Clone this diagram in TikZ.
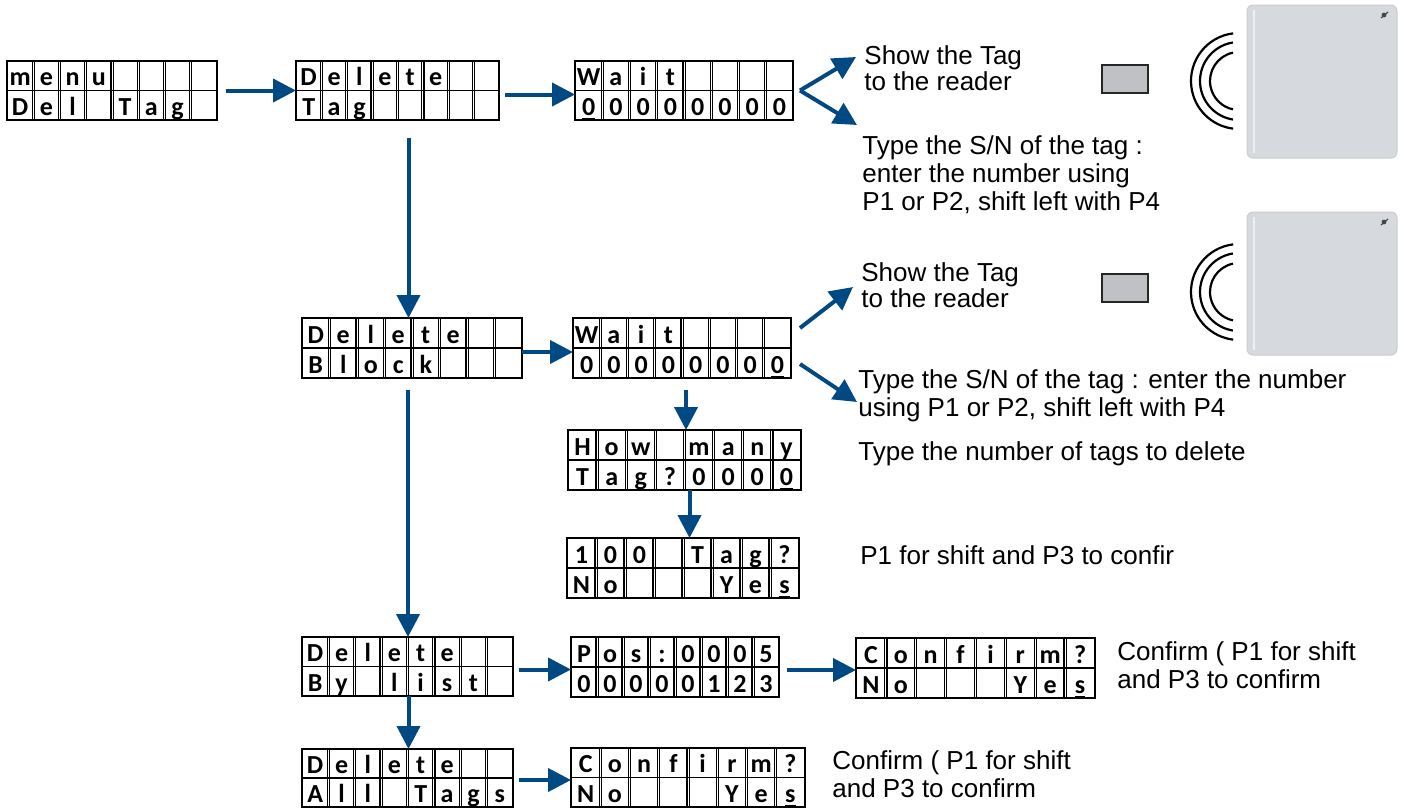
\documentclass[tikz,border=0pt]{standalone}
\usepackage{fontspec}
\setmainfont{Liberation Sans}
\newfontfamily\lcdfont{Carlito}
\usetikzlibrary{arrows.meta,calc}
\definecolor{arrblue}{RGB}{0,73,131}
\definecolor{taggray}{RGB}{192,193,196}
\definecolor{readergray}{RGB}{214,217,221}
\tikzset{
  lcdbox/.style={draw=black, line width=1pt, inner sep=0pt, outer sep=0pt},
  lcdline/.style={draw=black, line width=0.6pt},
  lcdtxt/.style={font=\lcdfont\bfseries\fontsize{13}{13}\selectfont, inner sep=0pt, anchor=base},
  arr/.style={draw=arrblue, line width=2pt, -{Triangle[width=11.5pt,length=11.5pt]}},
  lbl/.style={font=\fontsize{13}{14}\selectfont, align=left, anchor=west, inner sep=0pt},
  lbltight/.style={lbl, font=\fontsize{13}{13}\selectfont},
  tagrect/.style={draw=gray!30!black, fill=taggray, line width=0.6pt},
  reader/.style={draw=gray!40, fill=readergray, line width=0.5pt, rounded corners=3pt},
  wave/.style={draw=black, line width=1.1pt},
}
% #1 name, #2 x0, #3 y0, #4 x1, #5 y1, #6 row1, #7 row2
\newcommand\lcd[7]{%
  \pgfmathsetmacro\lcdw{#4-#2}%
  \pgfmathsetmacro\lcdh{#5-#3}%
  \pgfmathsetmacro\lcdc{\lcdw/8}%
  \pgfmathsetmacro\lcdm{(#3+#5)/2}%
  \node[lcdbox, minimum width=\lcdw*0.5pt, minimum height=\lcdh*0.5pt, anchor=north west] (#1) at (#2,#3) {};
  \draw[lcdline] (#2,\lcdm) -- (#4,\lcdm);
  \foreach \i in {1,...,7}{\draw[lcdline] ({#2+\i*\lcdc-1.1},#3) -- ++(0,\lcdh) ({#2+\i*\lcdc+1.1},#3) -- ++(0,\lcdh);}
  \foreach \ch [count=\i] in {#6}{\node[lcdtxt] at ({#2+(\i-0.5)*\lcdc},\lcdm-5) {\ch};}
  \foreach \ch [count=\i] in {#7}{\node[lcdtxt] at ({#2+(\i-0.5)*\lcdc},#5-5) {\ch};}
}
\newcommand\waves[1]{%
  \draw[wave] ([shift={(97:24pt)}]#1) arc[start angle=97, end angle=263, radius=24pt];
  \draw[wave] ([shift={(99:19.5pt)}]#1) arc[start angle=99, end angle=261, radius=19.5pt];
  \draw[wave] ([shift={(102:14.5pt)}]#1) arc[start angle=102, end angle=258, radius=14.5pt];
}
\newcommand\readerpad[2]{%
  \draw[reader] (1247,#1) rectangle (1397,#2);
  \draw[white!60!readergray, line width=0.8pt] (1254,#1+5) -- (1254,#2-5);
  \draw[gray!55!black, line width=0.6pt] (1381,#1+13) -- (1388,#1+7);
  \fill[gray!55!black] (1384,#1+10) circle (1.2pt);
}
\begin{document}
\begin{tikzpicture}[x=0.5pt,y=-0.5pt]
\useasboundingbox (0,0) rectangle (1404,810);
\fill[white] (0,0) rectangle (1404,810);

\lcd{d1}{7}{61}{217}{120}{m,e,n,u,{},{},{},{}}{D,e,l,{},T,a,g,{}}
\lcd{d2}{296}{61}{499}{120}{D,e,l,e,t,e,{},{}}{T,a,g,{},{},{},{},{}}
\lcd{d3}{575}{61}{793}{120}{W,a,i,t,{},{},{},{}}{\underline{0},0,0,0,0,0,0,0}
\lcd{d4}{302}{318}{522}{378}{D,e,l,e,t,e,{},{}}{B,l,o,c,k,{},{},{}}
\lcd{d5}{573}{318}{791}{378}{W,a,i,t,{},{},{},{}}{0,0,0,0,0,0,0,\underline{0}}
\lcd{d6}{568}{430}{801}{490}{H,o,w,{},m,a,n,y}{T,a,g,?,0,0,0,\underline{0}}
\lcd{d7}{567}{538}{799}{598}{1,0,0,{},T,a,g,?}{N,o,{},{},{},Y,e,\underline{s}}
\lcd{d8}{302}{637}{513}{696}{D,e,l,e,t,e,{},{}}{B,y,{},l,i,s,t,{}}
\lcd{d9}{571}{637}{779}{697}{P,o,s,:,0,0,0,5}{0,0,0,0,0,1,2,3}
\lcd{d10}{856}{638}{1095}{698}{C,o,n,f,i,r,m,?}{N,o,{},{},{},Y,e,\underline{s}}
\lcd{d11}{302}{749}{513}{807}{D,e,l,e,t,e,{},{}}{A,l,l,{},T,a,g,s}
\lcd{d12}{571}{748}{805}{807}{C,o,n,f,i,r,m,?}{N,o,{},{},{},Y,e,\underline{s}}

% labels
\node[lbltight] (l1) at (864,68) {Show the Tag\\to the reader};
\node[lbl] (l2) at (862,175) {Type the S/N of the tag :\\enter the number using\\P1 or P2, shift left with P4};
\node[lbltight] (l3) at (861,285) {Show the Tag\\to the reader};
\node[lbl] (l4) at (858,396) {Type the S/N of the tag : enter the number\\using P1 or P2, shift left with P4};
\node[lbl] (l5) at (858,454) {Type the number of tags to delete};
\node[lbl] (l6) at (860,555) {P1 for shift and P3 to confir};
\node[lbl] (l7) at (1117,665) {Confirm ( P1 for shift\\and P3 to confirm};
\node[lbl] (l8) at (832,774) {Confirm ( P1 for shift\\and P3 to confirm};

% arrow end points
\coordinate (t1) at (856,57);
\coordinate (t2) at (857,125);
\coordinate (t3) at (853,287);
\coordinate (t4) at (857,402);

% connectors
\draw[arr] ([xshift=4.5pt]d1.east) -- (d2.west);
\draw[arr] ([xshift=3pt,yshift=-2pt]d2.east) -- ([yshift=-2pt]d3.west);
\draw[arr] ([xshift=3.5pt]d3.east) -- (t1);
\draw[arr] ([xshift=3.5pt]d3.east) -- (t2);
\draw[arr] ([xshift=5.5pt,yshift=-9pt]d2.south) -- ([xshift=5.5pt]d2.south |- d4.north);
\draw[arr] ([yshift=-2pt]d4.east) -- ([yshift=-2pt]d4.east -| d5.west);
\draw[arr] ([xshift=4.5pt,yshift=10pt]d5.east) -- (t3);
\draw[arr] ([xshift=4.5pt,yshift=-8pt]d5.east) -- (t4);
\draw[arr] ([xshift=2pt,yshift=-6pt]d5.south) -- ([xshift=2pt]d5.south |- d6.north);
\draw[arr] ([xshift=2.5pt]d6.south) -- ([xshift=2.5pt]d6.south |- d7.north);
\draw[arr] ([xshift=-2pt,yshift=-6pt]d4.south) -- ([xshift=-2pt]d4.south |- d8.north);
\draw[arr] ([xshift=0.5pt]d8.south) -- ([xshift=0.5pt]d8.south |- d11.north);
\draw[arr] ([xshift=3pt,yshift=-1.5pt]d8.east) -- ([yshift=-1.5pt]d8.east -| d9.west);
\draw[arr] ([xshift=4pt,yshift=-1.5pt]d9.east) -- ([yshift=-1.5pt]d9.east -| d10.west);
\draw[arr] ([xshift=3pt,yshift=-1pt]d11.east) -- ([yshift=-1pt]d11.east -| d12.west);

% tags, waves and readers
\draw[tagrect] (1102,65) rectangle (1148,93);
\draw[tagrect] (1102,274) rectangle (1148,302);
\coordinate (w1) at (1239,81);
\coordinate (w2) at (1239,292);
\waves{w1}
\waves{w2}
\readerpad{5}{158}
\readerpad{212}{355}
\end{tikzpicture}
\end{document}
